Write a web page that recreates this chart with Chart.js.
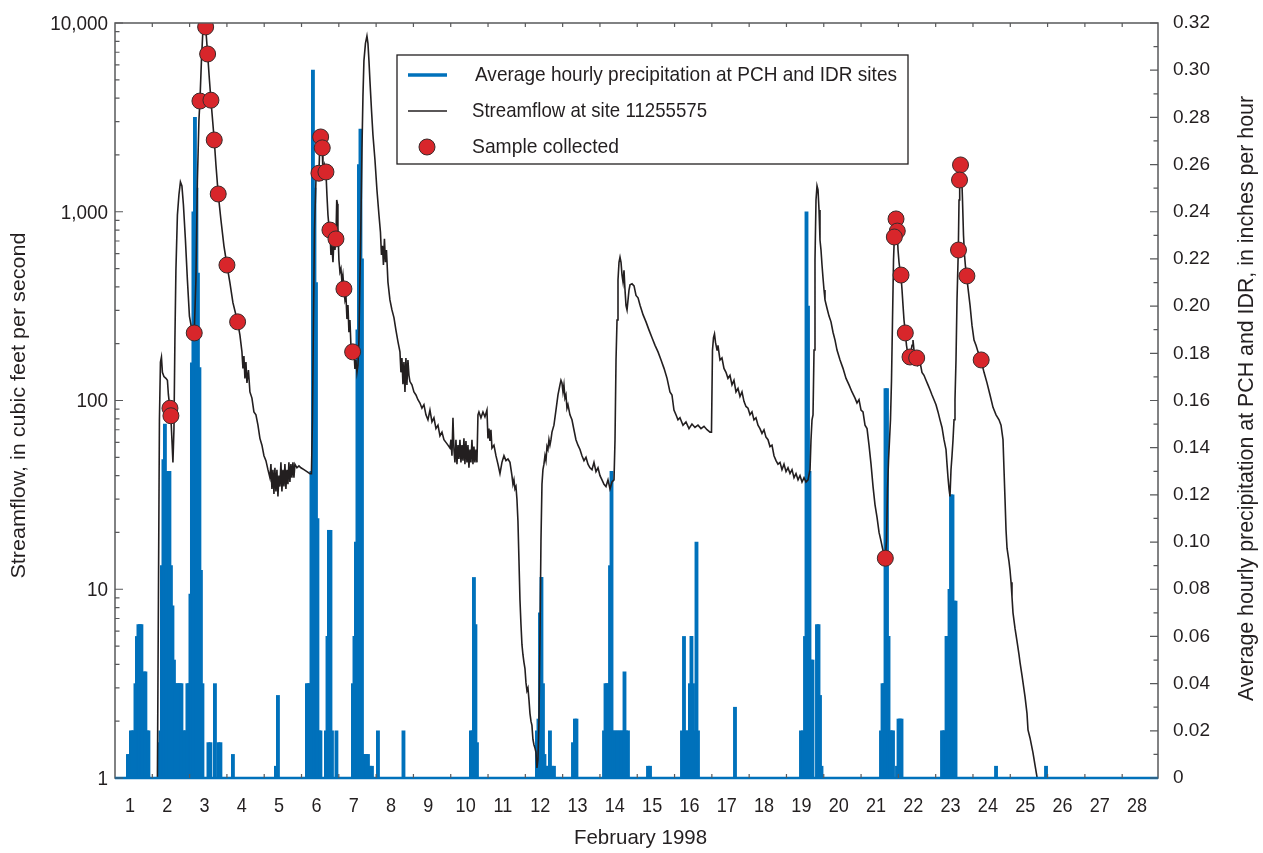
<!DOCTYPE html>
<html>
<head>
<meta charset="utf-8">
<title>Streamflow and precipitation, February 1998</title>
<script src="https://cdn.jsdelivr.net/npm/chart.js@4/dist/chart.umd.min.js"></script>
<style>
  html, body { margin: 0; padding: 0; background: #fff; }
  canvas { display: block; }
</style>
</head>
<body>
<canvas id="flowChart" width="1263" height="853"></canvas>
<script>
// ---------- data ----------
// days of February 1998 (fractional), streamflow in cfs, precipitation in inches per hour

const dayTicks = [1, 2, 3, 4, 5, 6, 7, 8, 9, 10, 11, 12, 13, 14, 15, 16, 17, 18, 19, 20, 21, 22, 23, 24, 25, 26, 27, 28];
const flowTicks = [1, 10, 100, 1000, 10000];
const flowTickLabels = ['1', '10', '100', '1,000', '10,000'];
const rainTicks = [0, 0.02, 0.04, 0.06, 0.08, 0.10, 0.12, 0.14, 0.16, 0.18, 0.20, 0.22, 0.24, 0.26, 0.28, 0.30, 0.32];
const rainTickLabels = ['0', '0.02', '0.04', '0.06', '0.08', '0.10', '0.12', '0.14', '0.16', '0.18', '0.20', '0.22', '0.24', '0.26', '0.28', '0.30', '0.32'];

const seriesNames = [
  'Average hourly precipitation at PCH and IDR sites',
  'Streamflow at site 11255575',
  'Sample collected'
];

// [day, cfs]
const streamflow = [
  [1.737,1.0],[1.764,8.8],[1.791,79],[1.818,160],[1.845,170],[1.871,141],[1.912,134],[1.965,131],[2.005,128],[2.032,107],
  [2.073,91],[2.099,81],[2.126,62],[2.153,47],[2.180,70],[2.206,209],[2.233,490],[2.273,961],[2.314,1230],[2.354,1438],
  [2.394,1370],[2.434,1090],[2.488,708],[2.541,435],[2.595,280],[2.662,236],[2.724,228],[2.769,435],[2.809,1470],[2.850,3060],
  [2.877,3860],[2.917,6300],[2.957,9200],[2.997,10300],[3.030,9530],[3.083,6850],[3.131,5000],[3.172,3900],[3.260,2400],[3.306,1770],
  [3.367,1242],[3.440,904],[3.520,660],[3.601,522],[3.681,420],[3.761,330],[3.887,261],[3.949,222],[4.003,181],[4.030,148],
  [4.056,172],[4.083,131],[4.110,160],[4.137,124],[4.177,145],[4.217,111],[4.271,103],[4.324,87],[4.378,84],[4.432,74],
  [4.485,63],[4.539,58],[4.593,51],[4.646,48],[4.700,43],[4.753,39],[4.780,46],[4.807,34],[4.834,43],[4.861,32],
  [4.887,44],[4.914,33],[4.941,43],[4.968,31],[4.994,40],[5.021,35],[5.048,47],[5.075,33],[5.102,43],[5.129,35],
  [5.155,46],[5.182,34],[5.209,43],[5.236,36],[5.262,47],[5.289,37],[5.316,46],[5.343,39],[5.370,47],[5.397,39],
  [5.423,46],[5.477,44],[5.531,45],[5.584,44],[5.665,43],[5.745,42],[5.826,41],[5.866,41],[5.893,79],[5.920,267],
  [5.947,800],[5.987,1470],[6.013,1660],[6.040,1580],[6.067,1600],[6.094,2400],[6.113,2500],[6.135,2125],[6.156,2180],[6.174,1580],
  [6.215,1770],[6.255,1625],[6.282,1220],[6.309,961],[6.335,840],[6.362,800],[6.389,590],[6.416,660],[6.443,540],[6.469,708],
  [6.496,627],[6.523,718],[6.544,1154],[6.563,1100],[6.576,800],[6.603,555],[6.630,480],[6.657,500],[6.684,424],[6.710,462],
  [6.737,390],[6.764,341],[6.791,360],[6.818,270],[6.845,320],[6.871,230],[6.898,267],[6.925,195],[6.970,181],[7.005,185],
  [7.032,147],[7.059,164],[7.086,141],[7.113,154],[7.139,209],[7.166,435],[7.193,904],[7.220,2125],[7.247,4100],[7.273,6300],
  [7.314,7800],[7.354,8530],[7.381,7800],[7.408,6300],[7.434,4950],[7.475,3480],[7.515,2550],[7.569,1880],[7.622,1304],[7.676,961],
  [7.716,780],[7.743,590],[7.770,660],[7.796,522],[7.823,720],[7.850,540],[7.877,627],[7.917,424],[7.970,341],[8.024,302],
  [8.078,275],[8.131,236],[8.185,205],[8.239,181],[8.265,141],[8.292,168],[8.319,122],[8.346,160],[8.373,111],[8.399,168],
  [8.426,121],[8.453,164],[8.480,136],[8.507,126],[8.560,121],[8.614,111],[8.668,107],[8.721,101],[8.775,97],[8.828,91],
  [8.882,95],[8.936,84],[8.989,79],[9.043,89],[9.097,77],[9.150,81],[9.204,71],[9.258,74],[9.311,65],[9.365,68],
  [9.418,62],[9.472,60],[9.526,58],[9.579,56],[9.606,62],[9.633,51],[9.660,81],[9.686,55],[9.713,47],[9.740,62],
  [9.767,46],[9.794,58],[9.820,49],[9.847,62],[9.874,47],[9.901,58],[9.928,48],[9.954,63],[9.981,46],[10.008,61],
  [10.035,47],[10.062,58],[10.088,44],[10.115,55],[10.142,47],[10.169,62],[10.196,46],[10.222,57],[10.249,47],[10.276,55],
  [10.303,47],[10.330,84],[10.356,87],[10.410,81],[10.464,87],[10.517,82],[10.571,89],[10.598,63],[10.625,71],[10.651,61],
  [10.678,70],[10.705,56],[10.759,58],[10.812,51],[10.866,46],[10.920,41],[10.973,47],[11.027,51],[11.081,48],[11.134,49],
  [11.188,47],[11.241,40],[11.268,36],[11.295,38],[11.322,34],[11.349,35],[11.375,30],[11.402,23],[11.429,14.3],[11.456,8.8],
  [11.483,6.5],[11.509,5.1],[11.536,4.5],[11.563,4.1],[11.590,3.8],[11.617,3.2],[11.643,2.9],[11.670,3.0],[11.697,2.6],[11.724,2.2],
  [11.751,2.0],[11.777,1.9],[11.804,1.6],[11.831,1.5],[11.858,1.44],[11.885,1.37],[11.911,1.13],[11.938,1.25],[11.965,2.0],[11.992,5.4],
  [12.019,18],[12.046,36],[12.072,43],[12.099,46],[12.126,51],[12.153,48],[12.180,57],[12.206,55],[12.233,62],[12.260,58],
  [12.287,62],[12.314,68],[12.367,74],[12.421,89],[12.475,107],[12.528,121],[12.555,128],[12.582,124],[12.609,111],[12.635,121],
  [12.662,103],[12.689,107],[12.716,91],[12.743,95],[12.796,84],[12.850,79],[12.903,70],[12.957,62],[13.011,58],[13.065,55],
  [13.118,51],[13.172,48],[13.226,50],[13.279,46],[13.333,44],[13.387,43],[13.440,47],[13.494,42],[13.548,44],[13.601,40],
  [13.655,38],[13.709,36],[13.762,35],[13.816,38],[13.870,34],[13.923,37],[13.977,38],[14.004,62],[14.031,164],[14.058,267],
  [14.084,435],[14.111,540],[14.138,575],[14.165,540],[14.192,462],[14.219,424],[14.245,490],[14.272,385],[14.299,318],[14.326,302],
  [14.353,341],[14.379,385],[14.406,410],[14.460,415],[14.514,405],[14.567,360],[14.621,350],[14.675,320],[14.755,285],[14.835,261],
  [14.916,236],[14.996,215],[15.077,196],[15.157,181],[15.238,164],[15.318,148],[15.399,131],[15.477,111],[15.531,107],[15.584,89],
  [15.638,84],[15.692,79],[15.745,81],[15.826,74],[15.906,77],[15.987,71],[16.067,75],[16.148,72],[16.228,74],[16.309,71],
  [16.389,73],[16.470,70],[16.550,68],[16.590,68],[16.617,185],[16.644,215],[16.671,225],[16.698,203],[16.738,185],[16.764,196],
  [16.818,164],[16.871,168],[16.925,148],[16.979,141],[17.032,131],[17.086,136],[17.140,121],[17.193,128],[17.247,111],[17.301,116],
  [17.354,105],[17.408,111],[17.461,99],[17.515,93],[17.569,91],[17.622,84],[17.676,87],[17.729,79],[17.783,81],[17.837,74],
  [17.890,71],[17.944,67],[17.998,70],[18.051,64],[18.105,62],[18.159,57],[18.212,58],[18.266,51],[18.320,48],[18.373,46],
  [18.427,47],[18.480,43],[18.534,46],[18.588,42],[18.641,44],[18.695,41],[18.749,43],[18.802,39],[18.856,41],[18.910,38],
  [18.963,40],[19.017,37],[19.071,39],[19.124,37],[19.178,38],[19.232,43],[19.258,62],[19.285,79],[19.312,84],[19.339,185],
  [19.365,555],[19.392,1154],[19.419,1370],[19.446,1304],[19.473,1021],[19.499,708],[19.526,627],[19.553,522],[19.580,446],[19.607,385],
  [19.633,341],[19.687,308],[19.741,280],[19.794,261],[19.848,230],[19.902,209],[19.955,185],[20.036,164],[20.116,148],[20.197,131],
  [20.277,121],[20.357,111],[20.438,103],[20.491,97],[20.545,101],[20.599,89],[20.652,87],[20.706,74],[20.760,71],[20.813,58],
  [20.867,46],[20.921,35],[20.974,28],[21.028,24],[21.082,20],[21.135,18],[21.189,16],[21.250,14.6],[21.282,18],[21.309,34],
  [21.336,48],[21.363,62],[21.389,79],[21.416,128],[21.443,267],[21.470,555],[21.492,735],[21.510,850],[21.537,916],[21.564,820],
  [21.591,627],[21.617,540],[21.644,490],[21.671,457],[21.698,385],[21.725,318],[21.751,267],[21.786,228],[21.818,196],[21.858,174],
  [21.912,170],[21.966,196],[21.992,209],[22.019,185],[22.091,168],[22.126,154],[22.180,160],[22.233,141],[22.287,136],[22.341,128],
  [22.394,121],[22.448,114],[22.502,107],[22.555,101],[22.609,95],[22.663,87],[22.716,79],[22.770,72],[22.823,62],[22.877,55],
  [22.904,46],[22.931,39],[22.958,34],[22.984,31],[23.011,43],[23.038,51],[23.065,62],[23.092,79],[23.118,101],[23.145,164],
  [23.172,341],[23.207,627],[23.226,1154],[23.244,1560],[23.266,1800],[23.293,1660],[23.319,1154],[23.346,750],[23.373,590],[23.400,510],
  [23.432,457],[23.467,394],[23.521,320],[23.574,250],[23.628,209],[23.681,196],[23.735,181],[23.815,164],[23.896,141],[23.976,124],
  [24.057,107],[24.137,92],[24.218,84],[24.298,79],[24.352,74],[24.405,62],[24.432,43],[24.459,30],[24.486,20.6],[24.513,16.5],
  [24.566,14],[24.593,12.6],[24.620,10.9],[24.646,9.1],[24.673,7.5],[24.727,6.2],[24.781,5.3],[24.834,4.5],[24.861,4.1],[24.914,3.5],
  [24.995,2.7],[25.048,2.2],[25.075,1.8],[25.129,1.63],[25.209,1.36],[25.263,1.17],[25.317,1.01]
];

// [day, cfs] when a water sample was taken
const samples = [
  [2.073,91],[2.099,83],[2.724,228],[2.877,3860],[3.030,9530],[3.083,6850],[3.172,3900],[3.260,2400],
  [3.367,1242],[3.601,522],[3.887,261],
  [6.113,2490],[6.156,2180],[6.067,1600],[6.255,1625],[6.362,800],[6.523,718],[6.737,390],[6.970,181],
  [21.250,14.6],[21.537,916],[21.571,790],[21.492,735],[21.671,462],[21.786,228],[21.912,170],[22.091,168],
  [23.266,1770],[23.239,1473],[23.212,627],[23.437,457],[23.820,164]
];

// [day, inches per hour], hourly averages
const precipitation = [
  [0.946,0.01],[0.987,0.01],[1.027,0.02],[1.067,0.02],[1.107,0.02],[1.148,0.04],[1.188,0.06],[1.228,0.065],[1.268,0.065],[1.308,0.065],
  [1.335,0.04],[1.375,0.045],[1.415,0.045],[1.456,0.02],[1.496,0.02],
  [1.777,0.015],[1.818,0.02],[1.858,0.09],[1.898,0.135],[1.938,0.15],[1.978,0.10],[2.019,0.13],[2.059,0.13],[2.099,0.09],[2.140,0.073],
  [2.180,0.05],[2.220,0.04],[2.260,0.04],[2.300,0.04],[2.341,0.04],[2.381,0.04],[2.421,0.02],[2.461,0.02],[2.501,0.02],
  [2.541,0.04],[2.582,0.04],[2.622,0.078],[2.662,0.176],[2.702,0.24],[2.743,0.28],[2.783,0.25],[2.823,0.214],[2.863,0.174],[2.903,0.088],
  [2.944,0.04],[3.105,0.015],[3.158,0.015],[3.279,0.04],[3.373,0.015],[3.426,0.015],[3.761,0.01],
  [4.914,0.005],[4.968,0.035],
  [5.745,0.04],[5.786,0.04],[5.826,0.04],[5.866,0.13],[5.906,0.30],[5.947,0.25],[5.987,0.21],[6.027,0.11],[6.067,0.02],[6.107,0.02],
  [6.255,0.02],[6.296,0.06],[6.335,0.105],[6.376,0.105],[6.416,0.02],[6.536,0.02],
  [6.978,0.04],[7.019,0.06],[7.059,0.10],[7.099,0.19],[7.139,0.26],[7.180,0.275],[7.220,0.22],[7.260,0.01],[7.300,0.01],[7.341,0.01],
  [7.381,0.01],[7.434,0.005],[7.488,0.005],[7.649,0.02],[8.333,0.02],
  [10.142,0.02],[10.182,0.02],[10.222,0.085],[10.262,0.065],[10.303,0.015],
  [11.911,0.02],[11.952,0.025],[11.992,0.07],[12.032,0.085],[12.072,0.04],[12.113,0.01],[12.153,0.005],[12.206,0.005],[12.260,0.02],[12.314,0.005],
  [12.367,0.005],[12.877,0.015],[12.930,0.025],[12.970,0.025],
  [13.709,0.02],[13.749,0.04],[13.789,0.04],[13.830,0.04],[13.870,0.09],[13.910,0.13],[13.950,0.02],[14.004,0.02],[14.058,0.02],[14.111,0.02],
  [14.165,0.02],[14.219,0.02],[14.258,0.045],[14.298,0.02],[14.351,0.02],[14.888,0.005],[14.942,0.005],
  [15.799,0.02],[15.853,0.06],[15.906,0.02],[15.960,0.02],[16.013,0.04],[16.053,0.06],[16.094,0.04],[16.147,0.02],[16.188,0.10],[16.228,0.02],
  [17.220,0.03],
  [18.989,0.02],[19.043,0.02],[19.097,0.06],[19.137,0.24],[19.177,0.20],[19.217,0.13],[19.258,0.05],[19.298,0.05],[19.418,0.065],[19.459,0.065],
  [19.499,0.035],[19.539,0.005],
  [21.134,0.02],[21.175,0.04],[21.215,0.04],[21.255,0.165],[21.295,0.165],[21.336,0.06],[21.375,0.02],[21.416,0.02],[21.456,0.02],[21.563,0.005],
  [21.604,0.025],[21.644,0.025],[21.684,0.025],
  [22.770,0.02],[22.810,0.02],[22.850,0.02],[22.891,0.06],[22.931,0.06],[22.971,0.08],[23.011,0.12],[23.051,0.12],[23.092,0.075],[23.132,0.075],
  [24.218,0.005],[25.558,0.005]
];

// ---------- styles ----------
const BLUE = '#0071bb';
const INK = '#231f20';
const RED = '#d8262b';
const FRAME = '#58595b';
const FONT = '"Liberation Sans", Arial, sans-serif';

// draws text, squeezed horizontally either by a factor or to a target width
function drawText(ctx, text, x, y, opt) {
  ctx.save();
  ctx.font = (opt.weight || '') + ' ' + opt.size + 'px ' + FONT;
  let sx = opt.sx || 1;
  if (opt.width) sx = opt.width / ctx.measureText(text).width;
  ctx.translate(x, y);
  if (opt.angle) ctx.rotate(opt.angle);
  ctx.scale(sx, 1);
  ctx.fillStyle = opt.color || INK;
  ctx.textAlign = opt.align || 'left';
  ctx.textBaseline = 'middle';
  ctx.fillText(text, 0, 0);
  ctx.restore();
}

// frame, inward tick marks, labels and titles
const axisDecor = {
  id: 'axisDecor',
  afterDatasetsDraw(chart) {
    const ctx = chart.ctx;
    const a = chart.chartArea;
    const xs = chart.scales.x, yf = chart.scales.yFlow, yr = chart.scales.yRain;

    ctx.save();
    ctx.strokeStyle = FRAME;
    ctx.lineWidth = 1.5;
    ctx.strokeRect(a.left, a.top, a.right - a.left, a.bottom - a.top);

    // precipitation zero line
    ctx.strokeStyle = BLUE;
    ctx.lineWidth = 2.5;
    ctx.beginPath();
    ctx.moveTo(a.left, a.bottom);
    ctx.lineTo(a.right, a.bottom);
    ctx.stroke();

    ctx.strokeStyle = FRAME;
    ctx.lineWidth = 1.2;
    ctx.beginPath();
    // log ticks on the streamflow axis
    for (let e = 0; e <= 4; e++) {
      for (let k = 1; k <= 9; k++) {
        const v = k * Math.pow(10, e);
        if (v > 10000) break;
        const py = yf.getPixelForValue(v);
        const len = k === 1 ? 8 : 4.5;
        ctx.moveTo(a.left, py);
        ctx.lineTo(a.left + len, py);
      }
    }
    // precipitation ticks, every 0.01
    for (let i = 0; i <= 32; i++) {
      const py = yr.getPixelForValue(i / 100);
      const len = i % 2 === 0 ? 8 : 4.5;
      ctx.moveTo(a.right, py);
      ctx.lineTo(a.right - len, py);
    }
    // day ticks, top and bottom
    for (const d of dayTicks) {
      const px = xs.getPixelForValue(d + 0.6);
      if (px > a.right) continue;
      ctx.moveTo(px, a.bottom);
      ctx.lineTo(px, a.bottom - 4);
      ctx.moveTo(px, a.top);
      ctx.lineTo(px, a.top + 4);
    }
    ctx.stroke();
    ctx.restore();

    // tick labels
    flowTicks.forEach((v, i) => {
      drawText(ctx, flowTickLabels[i], a.left - 7, yf.getPixelForValue(v) + 1, { size: 21, sx: 0.9, align: 'right' });
    });
    rainTicks.forEach((v, i) => {
      drawText(ctx, rainTickLabels[i], a.right + 15, yr.getPixelForValue(v), { size: 19, align: 'left' });
    });
    dayTicks.forEach(d => {
      drawText(ctx, String(d), xs.getPixelForValue(d), a.bottom + 28, { size: 21, sx: 0.86, align: 'center' });
    });

    // axis titles
    const midY = (a.top + a.bottom) / 2;
    drawText(ctx, 'Streamflow, in cubic feet per second', 19, midY + 5,
      { size: 21, width: 346, align: 'center', angle: -Math.PI / 2 });
    drawText(ctx, 'Average hourly precipitation at PCH and IDR, in inches per hour', 1247, midY - 2,
      { size: 22, width: 605, align: 'center', angle: -Math.PI / 2 });
    drawText(ctx, 'February 1998', (a.left + a.right) / 2 + 4, 838, { size: 21, width: 133, align: 'center' });
  },
  afterDraw(chart) {
    const ctx = chart.ctx;
    const a = chart.chartArea;
    const bx = a.left + 282, by = a.top + 32, bw = 511, bh = 109;

    ctx.save();
    ctx.fillStyle = '#fff';
    ctx.fillRect(bx, by, bw, bh);
    ctx.strokeStyle = INK;
    ctx.lineWidth = 1.3;
    ctx.strokeRect(bx, by, bw, bh);

    const rows = [by + 20, by + 56, by + 92];
    ctx.lineCap = 'butt';
    ctx.strokeStyle = BLUE;
    ctx.lineWidth = 3.5;
    ctx.beginPath(); ctx.moveTo(bx + 11, rows[0]); ctx.lineTo(bx + 50, rows[0]); ctx.stroke();
    ctx.strokeStyle = INK;
    ctx.lineWidth = 1.6;
    ctx.beginPath(); ctx.moveTo(bx + 11, rows[1]); ctx.lineTo(bx + 50, rows[1]); ctx.stroke();
    ctx.fillStyle = RED;
    ctx.strokeStyle = '#3a2a2a';
    ctx.lineWidth = 1;
    ctx.beginPath(); ctx.arc(bx + 30, rows[2], 8, 0, Math.PI * 2); ctx.fill(); ctx.stroke();
    ctx.restore();

    drawText(ctx, seriesNames[0], bx + 78, rows[0], { size: 21, width: 422 });
    drawText(ctx, seriesNames[1], bx + 75, rows[1], { size: 21, width: 235 });
    drawText(ctx, seriesNames[2], bx + 75, rows[2], { size: 21, width: 147 });
  }
};

new Chart(document.getElementById('flowChart').getContext('2d'), {
  data: {
    datasets: [
      {
        type: 'line',
        label: seriesNames[2],
        data: samples.map(p => ({ x: p[0], y: p[1] })),
        yAxisID: 'yFlow',
        showLine: false,
        pointRadius: 8,
        pointBackgroundColor: RED,
        pointBorderColor: '#3a2a2a',
        pointBorderWidth: 1,
        order: 1
      },
      {
        type: 'line',
        label: seriesNames[1],
        data: streamflow.map(p => ({ x: p[0], y: p[1] })),
        yAxisID: 'yFlow',
        borderColor: INK,
        borderWidth: 1.6,
        pointRadius: 0,
        tension: 0,
        order: 2
      },
      {
        type: 'bar',
        label: seriesNames[0],
        data: precipitation.map(p => ({ x: p[0], y: p[1] })),
        yAxisID: 'yRain',
        backgroundColor: BLUE,
        borderWidth: 0,
        barThickness: 3.2,
        grouped: false,
        order: 3
      }
    ]
  },
  options: {
    responsive: false,
    animation: false,
    events: [],
    layout: { padding: { left: 115, right: 105, top: 23, bottom: 75 } },
    plugins: { legend: { display: false }, tooltip: { enabled: false } },
    scales: {
      x: { type: 'linear', min: 0.6, max: 28.56, offset: false, bounds: 'data', display: false },
      yFlow: { type: 'logarithmic', position: 'left', min: 1, max: 10000, display: false },
      yRain: { type: 'linear', position: 'right', min: 0, max: 0.32, display: false }
    }
  },
  plugins: [axisDecor]
});
</script>
</body>
</html>
